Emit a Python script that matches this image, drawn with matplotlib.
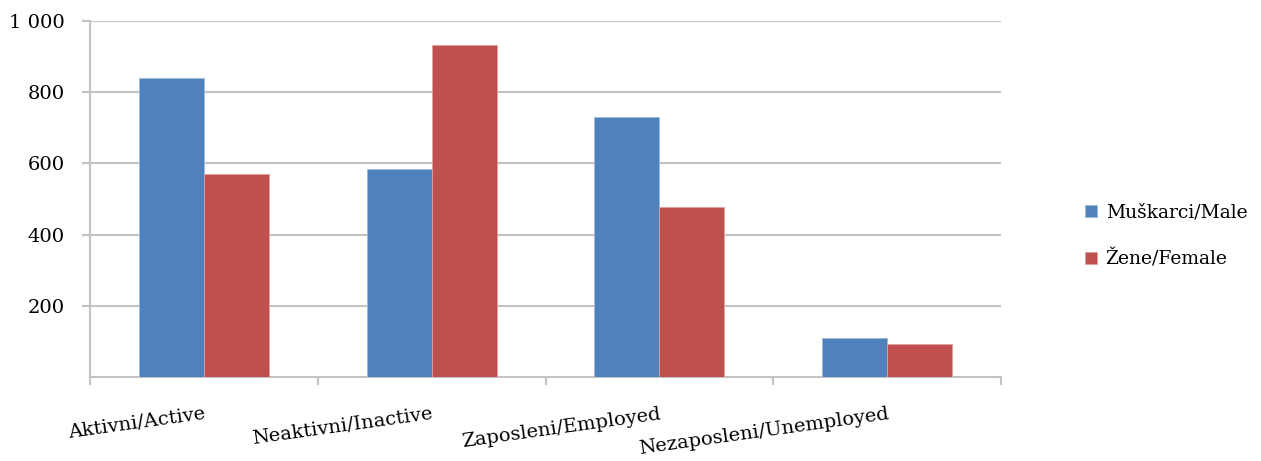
import numpy as np
from matplotlib import pyplot as plt

categories = ['Aktivni/Active', 'Neaktivni/Inactive', 'Zaposleni/Employed', 'Nezaposleni/Unemployed']
male = [840, 584, 730, 110]
female = [570, 933, 478, 93]
series_names = ['Muškarci/Male', 'Žene/Female']
y_ticks = [200, 400, 600, 800, 1000]
y_tick_labels = ['200', '400', '600', '800', '1 000']

plt.rcParams['font.family'] = ['DejaVu Serif']

fig = plt.figure(figsize=(12.61, 4.61), dpi=100)
ax = fig.add_axes([90 / 1261, 84 / 461, 911 / 1261, 356 / 461])

x = np.arange(len(categories))
w = 1 / 3.5
ax.bar(x - w / 2, male, w, color='#4F81BD', edgecolor='#9DB9DC', linewidth=0.6, label=series_names[0], zorder=3)
ax.bar(x + w / 2, female, w, color='#C0504D', edgecolor='#E0A09E', linewidth=0.6, label=series_names[1], zorder=3)

ax.set_xlim(-0.5, len(categories) - 0.5)
ax.set_ylim(0, 1000)
ax.set_yticks(y_ticks)
ax.set_yticklabels(y_tick_labels, fontsize=14)
ax.yaxis.grid(True, color='#C3C3C3', linewidth=1.5, zorder=0)

ax.set_xticks(np.arange(len(categories) + 1) - 0.5)
ax.set_xticklabels([])
ax.set_xticks(x, minor=True)
ax.set_xticklabels(categories, minor=True, rotation=8, ha='right', rotation_mode='anchor', fontsize=14)
ax.tick_params(axis='x', which='minor', length=0, pad=20)
ax.tick_params(axis='x', which='major', length=6, color='#C3C3C3', width=1.5)
ax.tick_params(axis='y', length=6, color='#C3C3C3', width=1.5, pad=12)

for s in ['top', 'right']:
    ax.spines[s].set_visible(False)
for s in ['left', 'bottom']:
    ax.spines[s].set_color('#C3C3C3')
    ax.spines[s].set_linewidth(1.5)

fig.legend(loc='center left', bbox_to_anchor=(1085 / 1261, 1 - 236 / 461), frameon=False, fontsize=13.5,
           handlelength=0.65, handleheight=0.65, handletextpad=0.45, labelspacing=1.5,
           borderpad=0, borderaxespad=0)

fig.savefig('out.png', dpi=100)
